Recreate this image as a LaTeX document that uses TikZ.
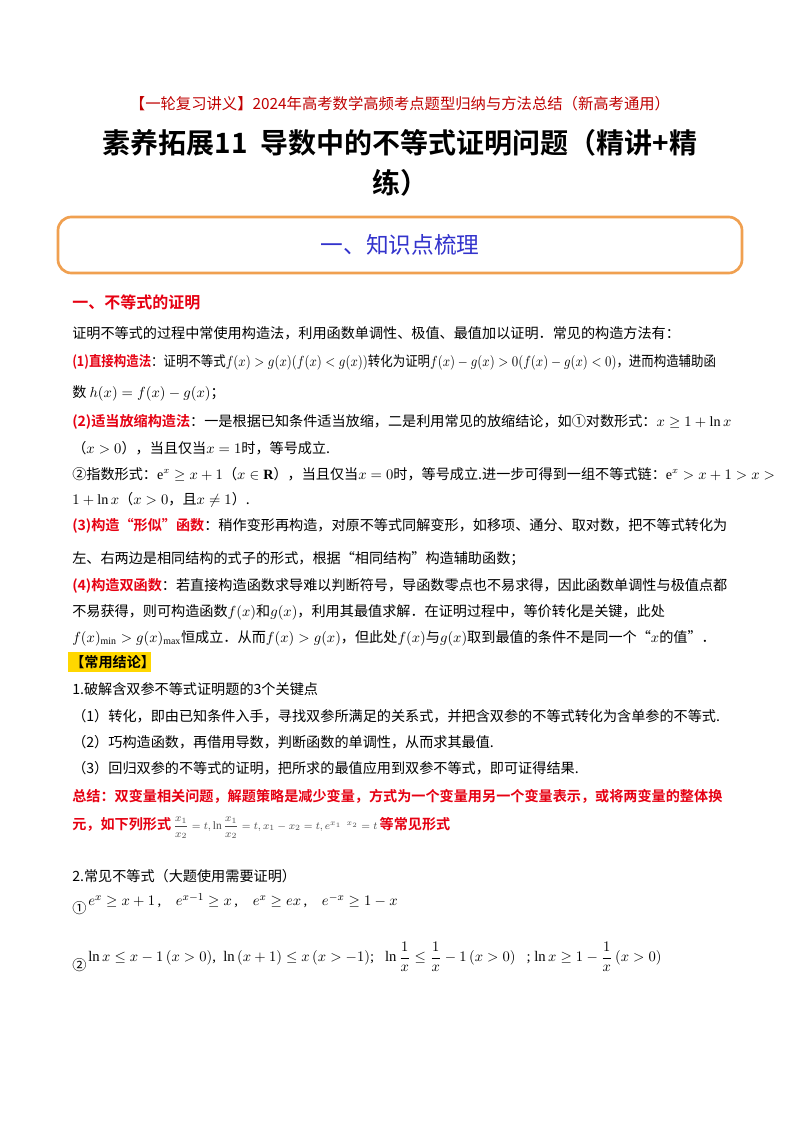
\documentclass[tikz,border=0pt]{standalone}
\usepackage{amsmath,amssymb,graphicx}
\usepackage{fontspec}
\setmainfont{Liberation Serif}
\newfontfamily\cjk{Noto Sans CJK SC}
\newfontfamily\cjkb{Noto Sans CJK SC Bold}
\definecolor{myred}{HTML}{E60012}
\definecolor{hdr}{HTML}{C00000}
\definecolor{boxor}{HTML}{F0A050}
\definecolor{boxtx}{HTML}{3333CC}
\definecolor{hl}{HTML}{FFD700}
\begin{document}
\begin{tikzpicture}[x=0.75pt,y=-0.75pt,
  ln/.style={anchor=west,inner sep=0pt,font=\fontsize{10.6}{12}\cjk},
  rd/.style={color=myred,font=\fontsize{10.6}{12}\cjkb}]
\useasboundingbox (0,0) rectangle (800,1132);
\fill[white] (0,0) rectangle (800,1132);
\node[inner sep=0pt,color=hdr,font=\fontsize{11.5}{13}\cjk] (hd) at (400,104) {【一轮复习讲义】2024年高考数学高频考点题型归纳与方法总结（新高考通用）};
\node[inner sep=0pt,font=\fontsize{21}{24}\cjkb] (t1) at (400,143) {素养拓展11\ \ 导数中的不等式证明问题（精讲+精};
\node[inner sep=0pt,font=\fontsize{21}{24}\cjkb] (t2) at (400,183) {练）};
\draw[boxor,line width=2pt,rounded corners=10pt] (58,217) rectangle (742,273);
\node[inner sep=0pt,color=boxtx,font=\fontsize{17}{20}\cjk] (bx) at (400,245) {一、知识点梳理};
\node[ln,color=myred,font=\fontsize{12}{14}\cjkb] (s1) at (72,302) {一、不等式的证明};
\node[ln] (l1) at (72,333) {证明不等式的过程中常使用构造法，利用函数单调性、极值、最值加以证明．常见的构造方法有：};
\node[ln] (l2) at (72,362) {\scalebox{0.88}[1]{{\color{myred}\cjkb (1)直接构造法}：证明不等式$f(x)>g(x)(f(x)<g(x))$转化为证明$f(x)-g(x)>0(f(x)-g(x)<0)$，进而构造辅助函}};
\node[ln] (l3) at (72,393) {数 $h(x)=f(x)-g(x)$；};
\node[ln] (l4) at (72,422) {{\color{myred}\cjkb (2)适当放缩构造法}：一是根据已知条件适当放缩，二是利用常见的放缩结论，如①对数形式：$x\geq1+\ln x$};
\node[ln] (l5) at (72,448) {（$x>0$），当且仅当$x=1$时，等号成立.};
\node[ln] (l6) at (72,474) {②指数形式：$\mathrm{e}^x\geq x+1$（$x\in\mathbf{R}$），当且仅当$x=0$时，等号成立.进一步可得到一组不等式链：$\mathrm{e}^x>x+1>x>$};
\node[ln] (l7) at (72,500) {$1+\ln x$（$x>0$，且$x\neq1$）.};
\node[ln] (l8) at (72,526) {{\color{myred}\cjkb (3)构造“形似”函数}：稍作变形再构造，对原不等式同解变形，如移项、通分、取对数，把不等式转化为};
\node[ln] (l9) at (72,559) {左、右两边是相同结构的式子的形式，根据“相同结构”构造辅助函数；};
\node[ln] (l10) at (72,586) {{\color{myred}\cjkb (4)构造双函数}：若直接构造函数求导难以判断符号，导函数零点也不易求得，因此函数单调性与极值点都};
\node[ln] (l11) at (72,612) {不易获得，则可构造函数$f(x)$和$g(x)$，利用其最值求解．在证明过程中，等价转化是关键，此处};
\node[ln] (l12) at (72,638) {$f(x)_{\min}>g(x)_{\max}$恒成立．从而$f(x)>g(x)$，但此处$f(x)$与$g(x)$取到最值的条件不是同一个“$x$的值”．};
\fill[hl] (68,652) rectangle (151,672);
\node[ln,font=\fontsize{10.6}{12}\cjkb] (cy) at (70,662) {【常用结论】};
\node[ln] (l13) at (72,689) {1.破解含双参不等式证明题的3个关键点};
\node[ln] (l14) at (72,716) {（1）转化，即由已知条件入手，寻找双参所满足的关系式，并把含双参的不等式转化为含单参的不等式.};
\node[ln] (l15) at (72,742) {（2）巧构造函数，再借用导数，判断函数的单调性，从而求其最值.};
\node[ln] (l16) at (72,768) {（3）回归双参的不等式的证明，把所求的最值应用到双参不等式，即可证得结果.};
\node[ln,rd] (l17) at (72,796) {总结：双变量相关问题，解题策略是减少变量，方式为一个变量用另一个变量表示，或将两变量的整体换};
\node[ln,rd] (l18) at (72,828) {元，如下列形式\,{\color{black!70}\normalfont\fontsize{8.5}{10}\selectfont$\dfrac{x_1}{x_2}=t,\ln\dfrac{x_1}{x_2}=t,x_1-x_2=t,e^{x_1\;\;x_2}=t$}\,等常见形式};
\node[ln] (l19) at (72,876) {2.常见不等式（大题使用需要证明）};
\node[ln] (c1) at (72,908) {①};
\node[ln,font=\fontsize{11}{13}\selectfont] (e1) at (88,901) {$e^x\geq x+1$\,,\quad $e^{x-1}\geq x$\,,\quad $e^x\geq ex$\,,\quad $e^{-x}\geq 1-x$};
\node[ln] (c2) at (72,965) {②};
\node[ln,font=\fontsize{11}{13}\selectfont] (e2) at (88,957) {$\ln x\leq x-1\left(x>0\right)$,\ \ $\ln\left(x+1\right)\leq x\left(x>-1\right)$;\ \ \ $\ln\dfrac1x\leq\dfrac1x-1\left(x>0\right)$\ \ \ ;\ $\ln x\geq1-\dfrac1x\left(x>0\right)$};
\end{tikzpicture}
\end{document}
